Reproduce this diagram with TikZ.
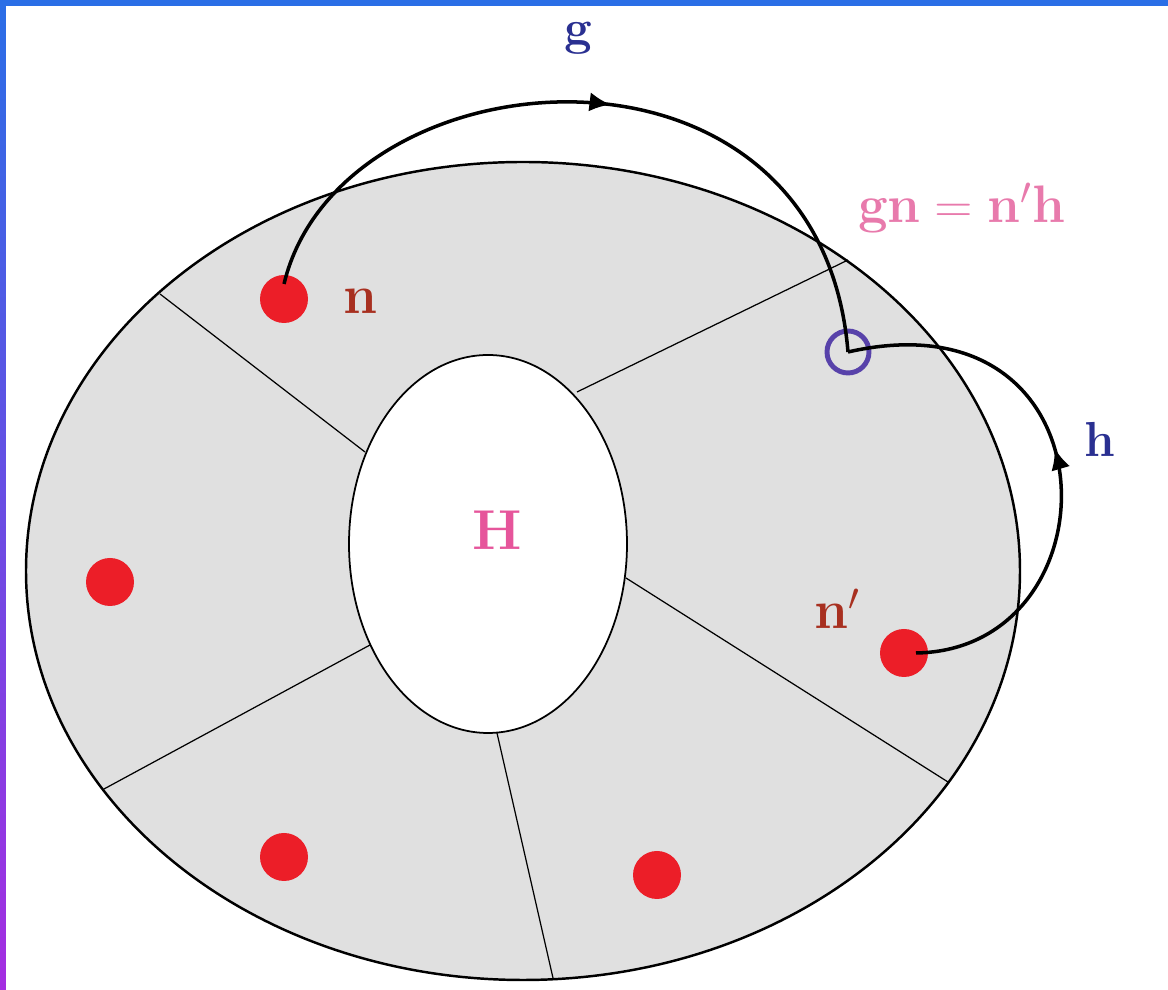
\documentclass[tikz,border=0pt]{standalone}
\usepackage{amsmath,amssymb}
\usetikzlibrary{arrows.meta, calc, decorations.markings}

\definecolor{ringgray}{RGB}{224,224,224}
\definecolor{dotred}{RGB}{236,30,40}
\definecolor{nbrown}{RGB}{168,48,32}
\definecolor{hpink}{RGB}{230,85,155}
\definecolor{eqpink}{RGB}{232,122,172}
\definecolor{gblue}{RGB}{42,48,145}
\definecolor{cpurple}{RGB}{88,66,170}
\definecolor{barblue}{RGB}{42,110,230}
\definecolor{barpurple}{RGB}{165,45,225}

\begin{document}
\begin{tikzpicture}[thick, font=\fontsize{15.5}{18}\selectfont\bfseries,
    dot/.style={circle, fill=dotred, inner sep=0pt, minimum size=0.48cm},
    lbl/.style={anchor=base},
    flow/.style={line width=1pt, decoration={markings,
        mark=at position #1 with {\arrow{Latex[length=6pt,width=5.5pt]}}},
        postaction={decorate}}]
            \useasboundingbox (0,0) rectangle (11.68,9.9);
            \fill[barblue] (0,9.84) rectangle (11.68,9.9);
            \shade[top color=barblue, bottom color=barpurple] (0,0) rectangle (0.06,9.9);

            \coordinate (O) at (5.23,4.19);
            \coordinate (I) at (4.88,4.46);

            \draw[line width=0.7pt, fill=ringgray] (O) ellipse [x radius=4.97, y radius=4.09];

            \draw[line width=0.35pt] (3.65,5.38) -- (1.60,6.96);
            \draw[line width=0.35pt] (5.77,5.98) -- (8.48,7.30);
            \draw[line width=0.35pt] (6.26,4.12) -- (9.48,2.08);
            \draw[line width=0.35pt] (4.97,2.57) -- (5.53,0.12);
            \draw[line width=0.35pt] (3.70,3.45) -- (1.04,2.01);

            \draw[line width=0.5pt, fill=white] (I) ellipse [x radius=1.39, y radius=1.89];

            \node[dot] (n1) at (2.84,6.91) {};
            \node[dot] (n2) at (1.10,4.08) {};
            \node[dot] (n3) at (2.84,1.33) {};
            \node[dot] (n4) at (6.57,1.15) {};
            \node[dot] (nb) at (9.04,3.37) {};

            \node[circle, draw=cpurple, line width=1.4pt, inner sep=0pt,
                minimum size=0.42cm] (gn) at (8.48,6.38) {};

            \draw[flow=0.52] ([yshift=0.15cm]n1.center)
                .. controls (3.4,9.4) and (8.2,9.8) .. (gn.center);
            \draw[flow=0.53] ([xshift=0.12cm]nb.center)
                .. controls (11.2,3.4) and (11.2,7.0) .. (gn.center);

            \node[lbl, text=nbrown] (ln) at (3.61,6.76) {n};
            \node[lbl, text=nbrown] (lnb) at (8.38,3.61) {n$'$};
            \node[lbl, text=hpink, font=\fontsize{16}{19}\selectfont\bfseries] (lH) at (4.97,4.40) {H};
            \node[lbl, text=gblue, font=\fontsize{14}{17}\selectfont\bfseries] (lg) at (5.78,9.45) {g};
            \node[lbl, text=gblue, font=\fontsize{14}{17}\selectfont\bfseries] (lh) at (11.00,5.33) {h};
            \node[lbl, text=eqpink, font=\fontsize{15}{18}\selectfont\bfseries] (leq) at (9.62,7.67) {gn${}={}$n$'$h};
        \end{tikzpicture}
\end{document}
